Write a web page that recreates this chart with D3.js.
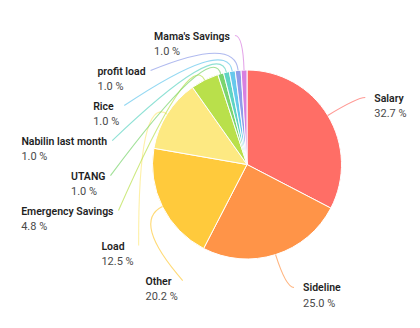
<!DOCTYPE html>
<html>
<head>
<meta charset="utf-8">
<script src="https://cdn.jsdelivr.net/npm/d3@7"></script>
<style>
  html, body { margin: 0; background: #fff; }
  svg { display: block; font-family: Roboto, "Noto Sans", sans-serif; }
</style>
</head>
<body>
<svg id="chart" width="420" height="328"></svg>
<script>
// Budget share per category (percent)
const categories = ["Salary", "Sideline", "Other", "Load", "Emergency Savings",
                    "UTANG", "Nabilin last month", "Rice", "profit load", "Mama's Savings"];
const shares = [32.7, 25.0, 20.2, 12.5, 4.8, 1.0, 1.0, 1.0, 1.0, 1.0];
const sliceColors = ["#ff6e66", "#ff9448", "#ffca3c", "#fde982", "#b9e04b",
                     "#7bd46e", "#5fd4c3", "#66c8ec", "#8f9ce8", "#d880e0"];

// Layout
const cx = 247, cy = 164.5, radius = 94.5;
const guideR = 129;     // radius where leader lines bend
const guideTail = 8;    // horizontal tail of a leader line
const rowGap = 35;      // minimum vertical distance between labels

const svg = d3.select("#chart");

const rows = categories.map((name, i) => ({ name, value: shares[i], color: sliceColors[i] }));
const pie = d3.pie().sort(null).value(d => d.value);
const arcs = pie(rows);
const arc = d3.arc().innerRadius(0).outerRadius(radius);

// Label placement: start at the natural bend point, push down to avoid overlaps,
// then slide along the guide circle.
const items = arcs.map(a => {
  const mid = (a.startAngle + a.endAngle) / 2;
  const s = Math.sin(mid), c = -Math.cos(mid);
  return {
    arc: a,
    side: s >= 0 ? 1 : -1,
    edge: [cx + radius * s, cy + radius * c],
    bend: [cx + guideR * s, cy + guideR * c]
  };
});

[1, -1].forEach(side => {
  const list = items.filter(d => d.side === side).sort((p, q) => p.bend[1] - q.bend[1]);
  let prev = -Infinity;
  list.forEach(d => {
    const y = Math.max(d.bend[1], prev + rowGap);
    prev = y;
    const dy = y - cy;
    const dx = (y === d.bend[1]) ? Math.abs(d.bend[0] - cx)
                                 : Math.sqrt(Math.max(0, guideR * guideR - dy * dy));
    d.y = y;
    d.x = cx + side * (dx + guideTail);
  });
});

// Slices
svg.append("g")
  .attr("transform", `translate(${cx},${cy})`)
  .selectAll("path")
  .data(arcs)
  .join("path")
  .attr("d", arc)
  .attr("fill", d => d.data.color)
  .attr("stroke", "#fff")
  .attr("stroke-width", 1);

// Leader lines
svg.append("g")
  .selectAll("path")
  .data(items)
  .join("path")
  .attr("d", d => {
    const p = d3.path();
    p.moveTo(d.edge[0], d.edge[1]);
    p.quadraticCurveTo(d.bend[0], d.bend[1], d.x, d.y);
    return p.toString();
  })
  .attr("fill", "none")
  .attr("stroke", d => d.arc.data.color)
  .attr("stroke-opacity", 0.7)
  .attr("stroke-width", 1.1);

// Labels: name on top, percentage below
const labels = svg.append("g")
  .selectAll("g")
  .data(items)
  .join("g");

labels.append("text")
  .attr("class", "name")
  .attr("y", d => d.y + 4)
  .attr("font-size", 10.5)
  .attr("font-weight", 600)
  .attr("fill", "#1f1f1f")
  .text(d => d.arc.data.name);

labels.append("text")
  .attr("class", "pct")
  .attr("y", d => d.y + 19.5)
  .attr("font-size", 11)
  .attr("fill", "#4a4a4a")
  .text(d => d.arc.data.value.toFixed(1) + " %");

labels.each(function (d) {
  const g = d3.select(this);
  const w = Math.max(g.select(".name").node().getComputedTextLength(),
                     g.select(".pct").node().getComputedTextLength());
  const left = d.side > 0 ? d.x + 9 : d.x - 5 - w;
  g.selectAll("text").attr("x", left);
});
</script>
</body>
</html>
